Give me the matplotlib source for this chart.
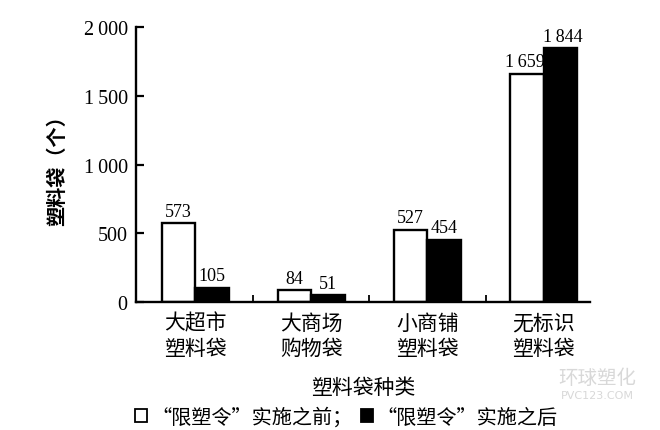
import numpy as np
import matplotlib
matplotlib.use('Agg')
import matplotlib.pyplot as plt
from matplotlib.patches import Rectangle

# data
categories = ['大超市\n塑料袋', '大商场\n购物袋', '小商铺\n塑料袋', '无标识\n塑料袋']
before = [573, 84, 527, 1659]
after = [105, 51, 454, 1844]
series_names = ['“限塑令”实施之前；', '“限塑令”实施之后']
yticks = [0, 500, 1000, 1500, 2000]

cjk = ['Noto Sans CJK SC', 'DejaVu Sans']
num = ['Liberation Serif', 'DejaVu Serif']


def fmt(v):
    s = str(v)
    if v >= 1000:
        s = s[:-3] + '\u2009' + s[-3:]
    return s


fig = plt.figure(figsize=(6.6, 4.31), dpi=100)
ax = fig.add_axes([0.206, 0.297, 0.688, 0.638])

x = np.arange(len(categories))
w = 0.29
b1 = ax.bar(x - w / 2, before, w, color='white', edgecolor='black', linewidth=1.7)
b2 = ax.bar(x + w / 2, after, w, color='black', edgecolor='black', linewidth=1.7)

for bars, vals, shift in ((b1, before, -0.02), (b2, after, 0.02)):
    for r, v in zip(bars, vals):
        ax.text(r.get_x() + r.get_width() / 2 + (shift if v >= 1000 else 0), v + 25, fmt(v),
                ha='center', va='bottom', fontsize=13, family=num)

ax.set_xlim(-0.51, 3.4)
ax.set_ylim(0, 2000)
ax.set_yticks(yticks)
ax.set_yticklabels([fmt(v) for v in yticks], family=num, fontsize=14.5)
ax.set_xticks(x)
ax.set_xticklabels(categories, family=cjk, fontsize=15, linespacing=1.2)
ax.set_xticks([0.5, 1.5, 2.5], minor=True)
ax.tick_params(axis='x', which='major', length=0, pad=7)
ax.tick_params(axis='x', which='minor', direction='in', length=5, width=1.3)
ax.tick_params(axis='y', direction='in', length=6, width=1.6, pad=6)

for s in ('top', 'right'):
    ax.spines[s].set_visible(False)
for s in ('left', 'bottom'):
    ax.spines[s].set_linewidth(1.7)

ax.set_ylabel('塑料袋（个）', family=cjk, fontsize=14.5, fontweight='bold', labelpad=12)
ax.set_xlabel('塑料袋种类', family=cjk, fontsize=15, labelpad=12)

handles = [Rectangle((0, 0), 1, 1, facecolor='white', edgecolor='black', linewidth=1.3),
           Rectangle((0, 0), 1, 1, facecolor='black', edgecolor='black', linewidth=1.3)]
fig.legend(handles, series_names, loc='center', bbox_to_anchor=(0.525, 0.03), ncol=2,
           frameon=False, prop={'family': cjk, 'size': 14.5}, handlelength=0.6,
           handleheight=0.6, handletextpad=0.2, columnspacing=0.4, borderaxespad=0)

# watermark
fig.text(0.905, 0.11, '环球塑化', family=cjk, fontsize=14, color='#d8d8d8', ha='center')
fig.text(0.905, 0.075, 'PVC123.COM', fontsize=8, color='#d8d8d8', ha='center')

fig.savefig('out.png', dpi=100)
